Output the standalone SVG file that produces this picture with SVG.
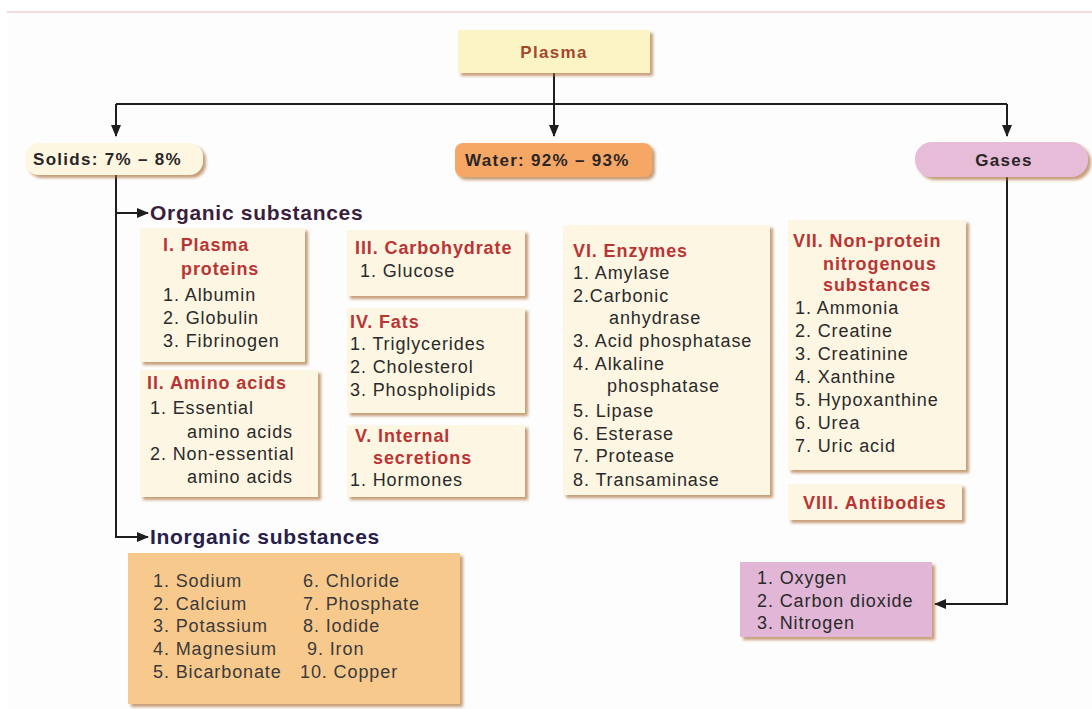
<svg xmlns="http://www.w3.org/2000/svg" width="1092" height="709" viewBox="0 0 1092 709">
<style>
text{font-family:"Liberation Sans",Arial,sans-serif}
.t{font-size:18px;letter-spacing:0.9px;fill:#2a2a2a}
.h{font-size:18px;letter-spacing:0.9px;font-weight:bold;fill:#b93535}
.big{font-size:21px;letter-spacing:0.7px;font-weight:bold}
.b{font-size:17px;letter-spacing:1.3px;font-weight:bold;fill:#2a2626}
.card{fill:#fdf6e2;filter:url(#sh)}
.ln{fill:none;stroke:#1e1e1e;stroke-width:2}
.inorg{fill:#3a3a3a}
</style>
<defs>
<filter id="sh" x="-10%" y="-10%" width="125%" height="125%">
<feDropShadow dx="3" dy="3" stdDeviation="1.8" flood-color="#a86a30" flood-opacity="0.65"/>
</filter>
<marker id="ar" markerUnits="userSpaceOnUse" markerWidth="12" markerHeight="12" viewBox="0 0 12 12" refX="11" refY="6" orient="auto">
<path d="M0,1 L12,6 L0,11 Z" fill="#1e1e1e"/>
</marker>
</defs>
<rect x="0" y="0" width="1092" height="709" fill="#ffffff"/>
<rect x="7" y="12" width="1085" height="697" fill="#fdfdfd"/>
<line x1="7" y1="12" x2="1092" y2="12" stroke="#f6dcdc" stroke-width="2"/>

<g id="connectors">
<path class="ln" d="M554,73 V136" marker-end="url(#ar)"/>
<path class="ln" d="M116,104 H1007"/>
<path class="ln" d="M116,104 V136" marker-end="url(#ar)"/>
<path class="ln" d="M1007,104 V136" marker-end="url(#ar)"/>
<path class="ln" d="M116,175 V537 H148" marker-end="url(#ar)"/>
<path class="ln" d="M116,213 H148" marker-end="url(#ar)"/>
<path class="ln" d="M1007,177 V604 H935" marker-end="url(#ar)"/>
</g>

<g id="plasma">
<rect x="458" y="30" width="192" height="43" fill="#fbf5c6" filter="url(#sh)"/>
<text x="554" y="58" text-anchor="middle" class="b" style="fill:#a4482c">Plasma</text>
</g>

<g id="solids">
<rect x="25" y="143" width="178" height="32" rx="14" fill="#fdf7e2" filter="url(#sh)"/>
<text x="33" y="165" class="b">Solids: 7% – 8%</text>
</g>

<g id="water">
<rect x="455" y="143" width="197" height="34" rx="8" fill="#f6a766" filter="url(#sh)"/>
<text x="465" y="166" class="b">Water: 92% – 93%</text>
</g>

<g id="gases">
<rect x="915" y="142" width="173" height="35" rx="17" fill="#e6bcd8" filter="url(#sh)"/>
<text x="1004" y="166" text-anchor="middle" class="b">Gases</text>
</g>

<g id="organic">
<text x="150" y="220" class="big" fill="#3a1f3c">Organic substances</text>
</g>

<g id="plasma-proteins">
<rect class="card" x="140" y="228" width="165" height="134"/>
<text x="163" y="251" class="h">I. Plasma</text>
<text x="181" y="275" class="h">proteins</text>
<text x="163" y="301" class="t">1. Albumin</text>
<text x="163" y="324" class="t">2. Globulin</text>
<text x="163" y="347" class="t">3. Fibrinogen</text>
</g>

<g id="amino-acids">
<rect class="card" x="140" y="370" width="178" height="127"/>
<text x="147" y="389" class="h">II. Amino acids</text>
<text x="150" y="414" class="t">1. Essential</text>
<text x="187" y="438" class="t">amino acids</text>
<text x="150" y="460" class="t">2. Non-essential</text>
<text x="187" y="483" class="t">amino acids</text>
</g>

<g id="carbohydrate">
<rect class="card" x="347" y="230" width="178" height="66"/>
<text x="355" y="254" class="h">III. Carbohydrate</text>
<text x="360" y="277" class="t">1. Glucose</text>
</g>

<g id="fats">
<rect class="card" x="347" y="308" width="178" height="105"/>
<text x="350" y="328" class="h">IV. Fats</text>
<text x="350" y="350" class="t">1. Triglycerides</text>
<text x="350" y="373" class="t">2. Cholesterol</text>
<text x="350" y="396" class="t">3. Phospholipids</text>
</g>

<g id="internal-secretions">
<rect class="card" x="347" y="425" width="178" height="72"/>
<text x="355" y="442" class="h">V. Internal</text>
<text x="373" y="464" class="h">secretions</text>
<text x="350" y="486" class="t">1. Hormones</text>
</g>

<g id="enzymes">
<rect class="card" x="563" y="225" width="207" height="270"/>
<text x="573" y="257" class="h">VI. Enzymes</text>
<text x="573" y="279" class="t">1. Amylase</text>
<text x="573" y="302" class="t">2.Carbonic</text>
<text x="609" y="324" class="t">anhydrase</text>
<text x="573" y="347" class="t">3. Acid phosphatase</text>
<text x="573" y="370" class="t">4. Alkaline</text>
<text x="607" y="392" class="t">phosphatase</text>
<text x="573" y="417" class="t">5. Lipase</text>
<text x="573" y="440" class="t">6. Esterase</text>
<text x="573" y="462" class="t">7. Protease</text>
<text x="573" y="486" class="t">8. Transaminase</text>
</g>

<g id="non-protein">
<rect class="card" x="788" y="220" width="178" height="250"/>
<text x="793" y="247" class="h">VII. Non-protein</text>
<text x="823" y="270" class="h">nitrogenous</text>
<text x="823" y="291" class="h">substances</text>
<text x="795" y="314" class="t">1. Ammonia</text>
<text x="795" y="337" class="t">2. Creatine</text>
<text x="795" y="360" class="t">3. Creatinine</text>
<text x="795" y="383" class="t">4. Xanthine</text>
<text x="795" y="406" class="t">5. Hypoxanthine</text>
<text x="795" y="429" class="t">6. Urea</text>
<text x="795" y="452" class="t">7. Uric acid</text>
</g>

<g id="antibodies">
<rect class="card" x="788" y="484" width="174" height="36"/>
<text x="803" y="509" class="h">VIII. Antibodies</text>
</g>

<g id="inorganic">
<text x="150" y="544" class="big" fill="#27214a">Inorganic substances</text>
</g>

<g id="inorganic-list">
<rect x="128" y="553" width="332" height="151" fill="#f8c98d" filter="url(#sh)"/>
<text x="153" y="587" class="t inorg">1. Sodium</text>
<text x="153" y="610" class="t inorg">2. Calcium</text>
<text x="153" y="632" class="t inorg">3. Potassium</text>
<text x="153" y="655" class="t inorg">4. Magnesium</text>
<text x="153" y="678" class="t inorg">5. Bicarbonate</text>
<text x="303" y="587" class="t inorg">6. Chloride</text>
<text x="303" y="610" class="t inorg">7. Phosphate</text>
<text x="303" y="632" class="t inorg">8. Iodide</text>
<text x="307" y="655" class="t inorg">9. Iron</text>
<text x="300" y="678" class="t inorg">10. Copper</text>
</g>

<g id="gas-list">
<rect x="740" y="562" width="192" height="75" fill="#e1b6d7" filter="url(#sh)"/>
<text x="757" y="584" class="t">1. Oxygen</text>
<text x="757" y="607" class="t">2. Carbon dioxide</text>
<text x="757" y="629" class="t">3. Nitrogen</text>
</g>
</svg>
